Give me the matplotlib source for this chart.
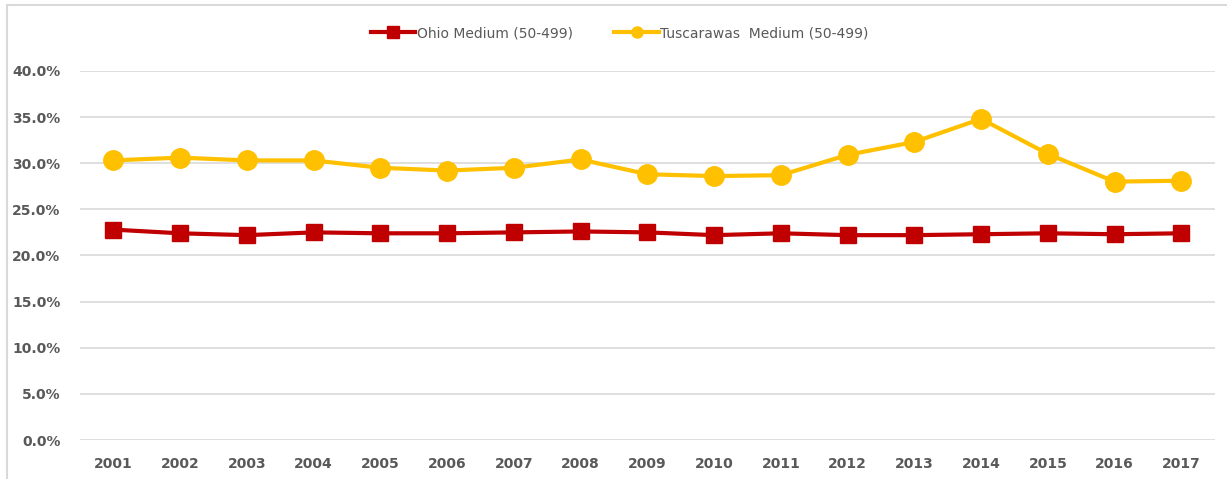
import matplotlib.pyplot as plt
from matplotlib.lines import Line2D
from matplotlib.ticker import FuncFormatter

years = list(range(2001, 2018))
ohio = [22.8, 22.4, 22.2, 22.5, 22.4, 22.4, 22.5, 22.6, 22.5, 22.2, 22.4, 22.2, 22.2, 22.3, 22.4, 22.3, 22.4]
tusc = [30.3, 30.6, 30.3, 30.3, 29.5, 29.2, 29.5, 30.4, 28.8, 28.6, 28.7, 30.9, 32.3, 34.8, 31.0, 28.0, 28.1]

red = '#C00000'
gold = '#FFC000'
grey = '#595959'

fig = plt.figure(figsize=(12.27, 4.79), dpi=100)
ax = fig.add_axes([0.0652, 0.0814, 0.9248, 0.7706])

x = list(range(1, len(years) + 1))
ax.plot(x, ohio, color=red, lw=3, marker='s', ms=12, zorder=3)
ax.plot(x, tusc, color=gold, lw=3, marker='o', ms=14, zorder=3)

ax.set_xlim(0.5, len(years) + 0.5)
ax.set_ylim(0, 40)
ax.set_yticks(range(0, 41, 5))
ax.yaxis.set_major_formatter(FuncFormatter(lambda v, p: f'{v:.1f}%'))
ax.set_xticks(x)
ax.set_xticklabels([str(y) for y in years])
ax.grid(axis='y', color='#D9D9D9', lw=1.2)
ax.set_axisbelow(True)
for s in ax.spines.values():
    s.set_visible(False)
ax.tick_params(length=0, labelsize=10, labelcolor=grey, pad=12)
ax.tick_params(axis='y', pad=14)
for lbl in ax.get_xticklabels() + ax.get_yticklabels():
    lbl.set_fontweight('bold')

handles = [Line2D([], [], color=red, lw=3, marker='s', ms=8),
           Line2D([], [], color=gold, lw=3, marker='o', ms=8)]
fig.legend(handles, ['Ohio Medium (50-499)', 'Tuscarawas  Medium (50-499)'],
           loc='center', bbox_to_anchor=(0.505, 0.931), ncol=2, frameon=False,
           fontsize=10, labelcolor=grey, handlelength=3.2, handletextpad=0.1,
           columnspacing=3)

# chart frame
fig.add_artist(Line2D([7 / 1227, 7 / 1227], [0, 1 - 5 / 479], color='#D9D9D9', lw=1.5))
fig.add_artist(Line2D([7 / 1227, 1], [1 - 5 / 479, 1 - 5 / 479], color='#D9D9D9', lw=1.5))

fig.savefig('out.png', dpi=100)
